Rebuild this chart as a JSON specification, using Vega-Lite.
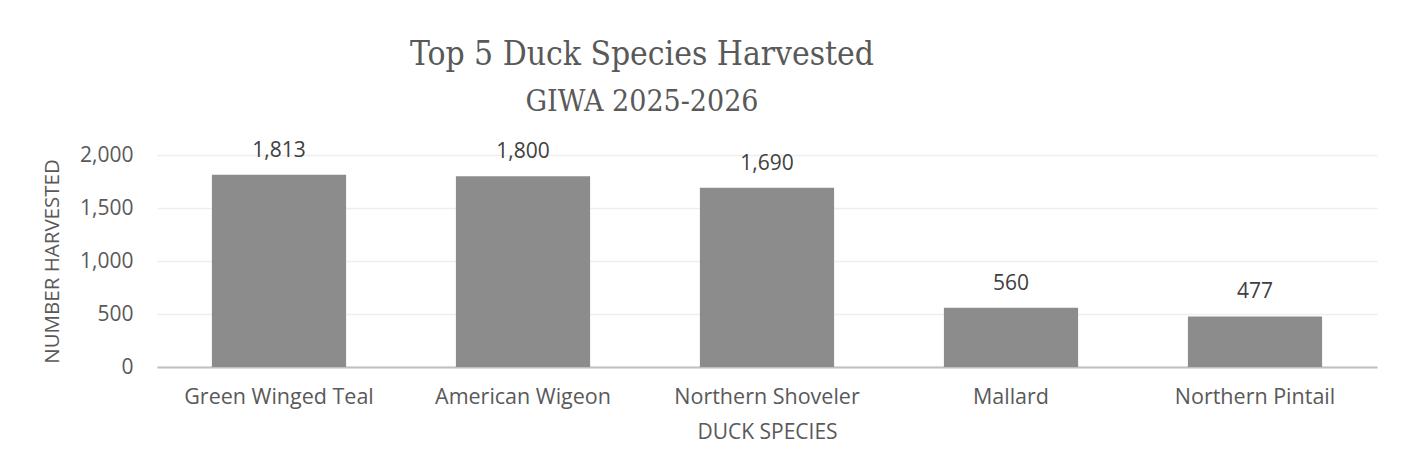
{
  "$schema": "https://vega.github.io/schema/vega-lite/v6.json",
  "autosize": "none",
  "width": 1220,
  "height": 212,
  "padding": {"left": 157, "top": 155, "right": 34, "bottom": 109},
  "background": "white",
  "config": {
    "view": {"stroke": null},
    "font": "Open Sans"
  },
  "title": {
    "text": "Top 5 Duck Species Harvested",
    "subtitle": "GIWA 2025-2026",
    "font": "DejaVu Serif Condensed",
    "subtitleFont": "DejaVu Serif Condensed",
    "fontSize": 33.3,
    "subtitleFontSize": 30,
    "fontWeight": "normal",
    "color": "#595959",
    "subtitleColor": "#595959",
    "anchor": "middle",
    "dx": -125,
    "offset": 22,
    "subtitlePadding": 15
  },
  "data": {
    "values": [
      {"species": "Green Winged Teal", "harvested": 1813},
      {"species": "American Wigeon", "harvested": 1800},
      {"species": "Northern Shoveler", "harvested": 1690},
      {"species": "Mallard", "harvested": 560},
      {"species": "Northern Pintail", "harvested": 477}
    ]
  },
  "encoding": {
    "x": {
      "field": "species",
      "type": "nominal",
      "sort": null,
      "scale": {"paddingInner": 0.45, "paddingOuter": 0.225},
      "axis": {
        "title": "DUCK SPECIES",
        "titleFont": "Open Sans",
        "titleFontSize": 21,
        "titleFontWeight": "normal",
        "titleColor": "#595959",
        "titlePadding": 14,
        "labelAngle": 0,
        "labelFont": "Open Sans",
        "labelFontSize": 21.5,
        "labelColor": "#595959",
        "labelPadding": 19,
        "labelLimit": 0,
        "labelOverlap": false,
        "ticks": false,
        "domainColor": "#bfbfbf",
        "domainWidth": 2,
        "grid": false
      }
    },
    "y": {
      "field": "harvested",
      "type": "quantitative",
      "scale": {"domain": [0, 2000]},
      "axis": {
        "title": "NUMBER HARVESTED",
        "titleFont": "Open Sans",
        "titleFontSize": 20.5,
        "titleFontWeight": "normal",
        "titleColor": "#595959",
        "titlePadding": 17,
        "values": [0, 500, 1000, 1500, 2000],
        "format": ",d",
        "labelFont": "Open Sans",
        "labelFontSize": 21,
        "labelColor": "#595959",
        "labelPadding": 24,
        "ticks": false,
        "domain": false,
        "grid": true,
        "gridColor": "#eeeeee",
        "gridWidth": 1.5
      }
    }
  },
  "layer": [
    {"mark": {"type": "bar", "color": "#8c8c8c"}},
    {
      "mark": {"type": "text", "dy": -24, "fontSize": 21, "color": "#404040", "font": "Open Sans"},
      "encoding": {"text": {"field": "harvested", "type": "quantitative", "format": ",d"}}
    }
  ]
}
